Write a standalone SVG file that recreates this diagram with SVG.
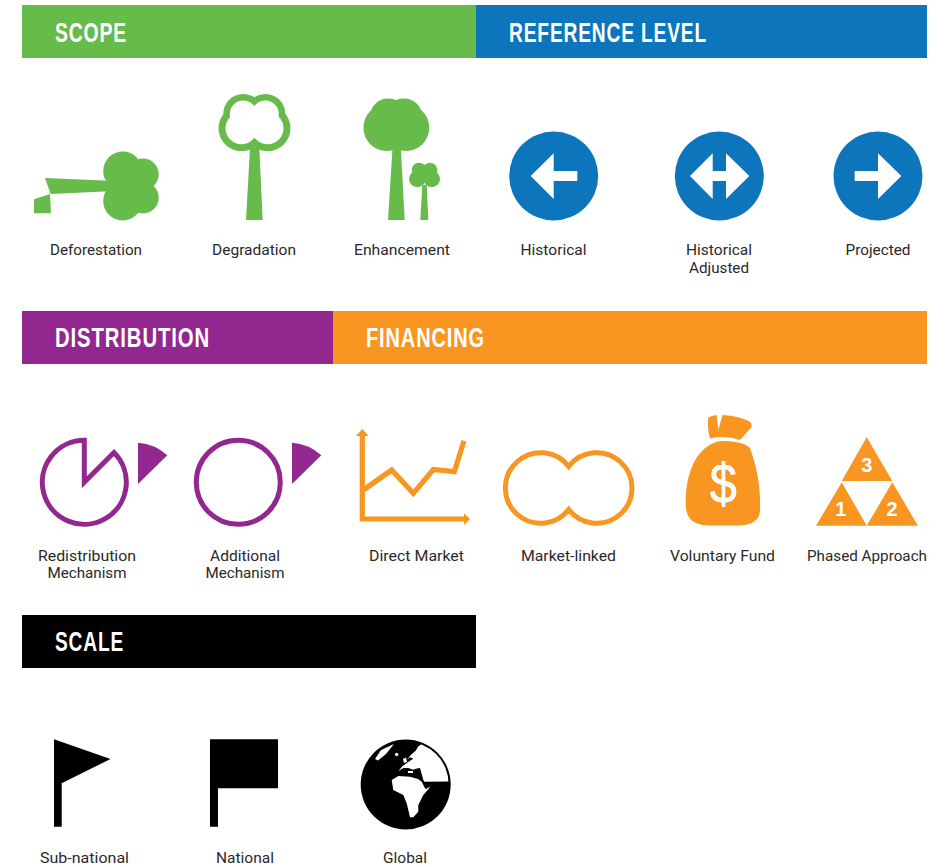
<svg xmlns="http://www.w3.org/2000/svg" width="948" height="867" viewBox="0 0 948 867">
<defs><clipPath id="globe-clip"><circle cx="405.7" cy="784.5" r="43"/></clipPath></defs>
<style>
.h{font-family:"Liberation Sans",Arial,sans-serif;font-weight:700;font-size:28px;fill:#fff;letter-spacing:1.2px}
.l{font-family:Roboto,"Liberation Sans",Arial,sans-serif;font-size:15.5px;fill:#2b2829;text-anchor:middle}
.g{fill:#67bb4b}.b{fill:#0c75bc}.p{fill:#92278f}.o{fill:#f89621}.w{fill:#fff}
.ring{fill:none;stroke:#92278f;stroke-width:5}
.n{font-family:"Liberation Sans",Arial,sans-serif;fill:#fff;text-anchor:middle}
</style>
<rect width="948" height="867" fill="#fff"/>
<g id="header-scope"><rect x="22" y="5" width="454" height="53" class="g"/><text x="55" y="41.5" class="h" textLength="72" lengthAdjust="spacingAndGlyphs">SCOPE</text></g>
<g id="header-reference"><rect x="476" y="5" width="451" height="53" class="b"/><text x="509" y="41.5" class="h" textLength="198" lengthAdjust="spacingAndGlyphs">REFERENCE LEVEL</text></g>
<g id="header-distribution"><rect x="22" y="311" width="311" height="53" class="p"/><text x="55" y="347" class="h" textLength="155" lengthAdjust="spacingAndGlyphs">DISTRIBUTION</text></g>
<g id="header-financing"><rect x="333" y="311" width="594" height="53" class="o"/><text x="366" y="347" class="h" textLength="119" lengthAdjust="spacingAndGlyphs">FINANCING</text></g>
<g id="header-scale"><rect x="22" y="615" width="454" height="53" fill="#000"/><text x="55" y="650.5" class="h" textLength="69" lengthAdjust="spacingAndGlyphs">SCALE</text></g>

<g id="deforestation">
<g class="g"><circle cx="122.7" cy="171" r="19.5"/><circle cx="122.7" cy="201" r="19.5"/><circle cx="143" cy="174.3" r="15.7"/><circle cx="143" cy="197.7" r="15.7"/><rect x="112" y="165" width="30" height="40"/>
<polygon points="45,178 115,181 115,191 50.7,194"/><polygon points="34,199.3 50,194 51,213.3 34,213.3"/></g>
<text x="96" y="255" class="l" textLength="92" lengthAdjust="spacingAndGlyphs">Deforestation</text>
</g>
<g id="degradation">
<g class="g"><circle cx="243.3" cy="114" r="20"/><circle cx="265.3" cy="114" r="20"/><circle cx="241.5" cy="128.3" r="23"/><circle cx="267.5" cy="128.3" r="23"/><polygon points="250,148 259.3,148 262.7,220 246,220"/></g>
<g class="w"><circle cx="243.3" cy="114" r="13.5"/><circle cx="265.3" cy="114" r="13.5"/><circle cx="241.5" cy="128.3" r="16"/><circle cx="267.5" cy="128.3" r="16"/></g>
<text x="254" y="255" class="l" textLength="84" lengthAdjust="spacingAndGlyphs">Degradation</text>
</g>
<g id="enhancement">
<g class="g"><circle cx="386.7" cy="127.7" r="23.3"/><circle cx="406" cy="127.7" r="23.3"/><circle cx="388.3" cy="116.7" r="18.3"/><circle cx="404" cy="116.7" r="18.3"/><polygon points="392.7,145 400.7,145 404.7,220 388,220"/>
<circle cx="417.3" cy="179" r="8.3"/><circle cx="431.7" cy="179" r="8.3"/><circle cx="419" cy="170" r="7.3"/><circle cx="430" cy="170" r="7.3"/><rect x="417" y="172" width="15" height="10"/><polygon points="422.3,185 426.7,185 428.3,220 420.3,220"/></g>
<text x="402" y="255" class="l" textLength="96" lengthAdjust="spacingAndGlyphs">Enhancement</text>
</g>
<g id="historical">
<circle cx="553.7" cy="176" r="44.5" class="b"/><polygon class="w" points="530.7,176 553.7,153.3 553.7,171 577.3,171 577.3,181 553.7,181 553.7,199"/>
<text x="553.5" y="255" class="l" textLength="66" lengthAdjust="spacingAndGlyphs">Historical</text>
</g>
<g id="historical-adjusted">
<circle cx="719.3" cy="176" r="44.5" class="b"/><polygon class="w" points="690,176 712.7,153.3 712.7,171 726,171 726,153.3 749.3,176 726,199 726,181 712.7,181 712.7,199"/>
<text x="719" y="255" class="l" textLength="66" lengthAdjust="spacingAndGlyphs">Historical</text>
<text x="719" y="273" class="l" textLength="60" lengthAdjust="spacingAndGlyphs">Adjusted</text>
</g>
<g id="projected">
<circle cx="878" cy="176" r="44.5" class="b"/><polygon class="w" points="901.3,176 878,153.3 878,171 854.7,171 854.7,181 878,181 878,199"/>
<text x="878" y="255" class="l" textLength="65" lengthAdjust="spacingAndGlyphs">Projected</text>
</g>

<g id="redistribution">
<path class="ring" d="M84.3 440.3V482.3L114 452.6A42 42 0 1 1 84.3 440.3Z"/>
<path class="p" d="M138 442.7Q155 444 167.3 455.3L138 484Z"/>
<text x="87" y="561" class="l" textLength="98" lengthAdjust="spacingAndGlyphs">Redistribution</text>
<text x="87" y="578" class="l" textLength="79" lengthAdjust="spacingAndGlyphs">Mechanism</text>
</g>
<g id="additional">
<circle class="ring" cx="238.3" cy="482.3" r="42"/>
<path class="p" d="M292 442.7Q309 444 321.3 455.3L292 484Z"/>
<text x="245" y="561" class="l" textLength="70" lengthAdjust="spacingAndGlyphs">Additional</text>
<text x="245" y="578" class="l" textLength="79" lengthAdjust="spacingAndGlyphs">Mechanism</text>
</g>
<g id="direct-market">
<path fill="none" stroke="#f89621" stroke-width="5.2" d="M362.3 434V519H465"/>
<path class="o" d="M356 436L362.3 429L368.7 436ZM464 513.3L470 519L464 525Z"/>
<path fill="none" stroke="#f89621" stroke-width="5.2" d="M363.3 490L391.7 470L413.3 493.3L433.3 469.5L454.3 471.7L464 440.7"/>
<text x="416.5" y="561" class="l" textLength="95" lengthAdjust="spacingAndGlyphs">Direct Market</text>
</g>
<g id="market-linked">
<path fill="none" stroke="#f89621" stroke-width="5" d="M568.7 466.5A35.3 35.3 0 1 0 568.7 509.5A35.3 35.3 0 1 0 568.7 466.5Z"/>
<text x="568.5" y="561" class="l" textLength="95" lengthAdjust="spacingAndGlyphs">Market-linked</text>
</g>
<g id="voluntary-fund">
<path class="o" d="M708.3 417.5Q713 415 716.7 415L718.3 430L722.5 415Q740 416 750 421.7Q752.5 424 751.7 427L740 440Q725 435 710 438.5Q707 428 708.3 417.5Z"/>
<path class="o" d="M723 441C735 441 745 443 750 448C756 465 761 485 760 510C760 520 752 525.5 738 525.5L710 525.5C695 525.5 686 520 685.7 505C685 480 692 460 704 449C710 444 716 441 723 441Z"/>
<text x="723.3" y="503" class="n" font-size="56" textLength="27" lengthAdjust="spacingAndGlyphs" stroke="#fff" stroke-width=".8">$</text>
<text x="722.5" y="561" class="l" textLength="105" lengthAdjust="spacingAndGlyphs">Voluntary Fund</text>
</g>
<g id="phased-approach">
<polygon class="o" points="866.7,437.3 841.7,481 892.3,481"/>
<polygon class="o" points="841.7,482.3 816,525.7 866.7,525.7"/>
<polygon class="o" points="892.3,482.3 866.7,525.7 918,525.7"/>
<text x="866.7" y="471.5" class="n" font-size="20" font-weight="700">3</text>
<text x="840.7" y="516" class="n" font-size="20" font-weight="700">1</text>
<text x="892" y="516" class="n" font-size="20" font-weight="700">2</text>
<text x="867" y="561" class="l" textLength="120" lengthAdjust="spacingAndGlyphs">Phased Approach</text>
</g>

<g id="sub-national">
<polygon points="54,739.3 110.5,759 61.7,783.3 61.7,826.7 54,826.7"/>
<text x="84.5" y="863" class="l" textLength="89" lengthAdjust="spacingAndGlyphs">Sub-national</text>
</g>
<g id="national">
<polygon points="210,739.3 278,739.3 278,788.3 218,788.3 218,826.7 210,826.7"/>
<text x="245" y="863" class="l" textLength="58" lengthAdjust="spacingAndGlyphs">National</text>
</g>
<g id="global">
<circle cx="405.7" cy="784.5" r="45"/>
<g clip-path="url(#globe-clip)">
<path class="w" d="M406.7 759.7L411 754.7L415.7 750.7L418.3 746.3L423.3 743L450 740L455 781.3L423.3 781.7L422.3 776.3L420 768L415.7 768.7L413.3 769.7L408.3 768L403.3 768L398.3 771.3L402.3 766.3L408.3 762L413.3 758.7L410 757.3Z"/>
<path class="w" d="M375 759L381 750L394 744L386 754L378 760.5Z"/>
<path class="w" d="M403 759L406 757.5L407 762L404 763Z"/>
<path class="w" d="M408 771L413 771L413 773L408 773Z"/>
<circle class="w" cx="396.7" cy="754.5" r="1.7"/>
<path class="w" d="M391.7 780L398.3 776L410 776.7L418 779L421.7 781.7L425 788.3L430 787.3L423.3 795L418.3 805L418.3 811.7L413.3 817.3L410 817.3L406.7 803.3L403.3 795L393.3 790Z"/>
<path d="M421 776L426.5 789" fill="none" stroke="#000" stroke-width="1.4"/>
</g>
<text x="405" y="863" class="l" textLength="44" lengthAdjust="spacingAndGlyphs">Global</text>
</g>
</svg>
